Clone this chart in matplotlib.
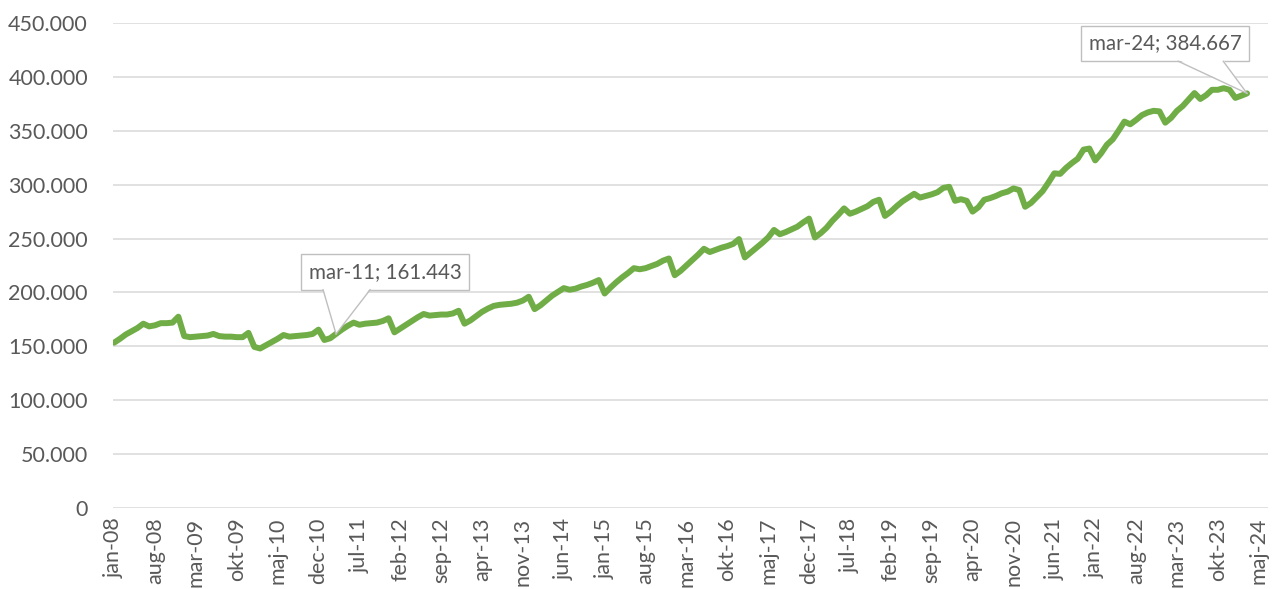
import matplotlib
matplotlib.use("Agg")
import matplotlib.pyplot as plt
from matplotlib.ticker import FuncFormatter, FixedLocator, MultipleLocator
from matplotlib.patches import Polygon
from matplotlib.lines import Line2D

# Danish month abbreviations
month_names = ["jan", "feb", "mar", "apr", "maj", "jun", "jul", "aug", "sep", "okt", "nov", "dec"]
start_year = 2008

# Monthly values (jan..dec) per year
v2008 = [153400, 157000, 161000, 164000, 167000, 171000, 168500, 169500, 171500, 171500, 172000, 177500]
v2009 = [159500, 158500, 159000, 159500, 160000, 161500, 159500, 159000, 159000, 158500, 158500, 162500]
v2010 = [149500, 148000, 151000, 154000, 157000, 160500, 159000, 159500, 160000, 160500, 161500, 165500]
v2011 = [155900, 157500, 161443, 165500, 169000, 172000, 170000, 171000, 171500, 172000, 173500, 176000]
v2012 = [163000, 166500, 170000, 173500, 177000, 180000, 178500, 179000, 179500, 179500, 180500, 183000]
v2013 = [171000, 174000, 178000, 182000, 185000, 187500, 188500, 189000, 189500, 190500, 192500, 196000]
v2014 = [184500, 188000, 192500, 197000, 200500, 204000, 202500, 203500, 205500, 207000, 209000, 211500]
v2015 = [199000, 204500, 209500, 214000, 218000, 222500, 221500, 222500, 224500, 226500, 229500, 231500]
v2016 = [216000, 220000, 225000, 230000, 235000, 240500, 237500, 239500, 241500, 243000, 245000, 249500]
v2017 = [232500, 237000, 241500, 246000, 251000, 258000, 254000, 256000, 258500, 261000, 265000, 268500]
v2018 = [251000, 255000, 260000, 266500, 272000, 278000, 273000, 275000, 277500, 280000, 284000, 286000]
v2019 = [271000, 275000, 280000, 284500, 288000, 291500, 288000, 289500, 291000, 293000, 297000, 298000]
v2020 = [285000, 286500, 285000, 275000, 279000, 286000, 287500, 289500, 292000, 293500, 296500, 295000]
v2021 = [279500, 283000, 288500, 294000, 302000, 310500, 310000, 315500, 320000, 324000, 332500, 333500]
v2022 = [322500, 329000, 337000, 342000, 350000, 358500, 356000, 360000, 364500, 367000, 368500, 368000]
v2023 = [357500, 362000, 368500, 373000, 379000, 385000, 379500, 383000, 388000, 388000, 389500, 388000]
v2024 = [380500, 382500, 384667]

series = (v2008 + v2009 + v2010 + v2011 + v2012 + v2013 + v2014 + v2015 + v2016
          + v2017 + v2018 + v2019 + v2020 + v2021 + v2022 + v2023 + v2024)
x = list(range(len(series)))

def month_label(i):
    return f"{month_names[i % 12]}-{(start_year + i // 12) % 100:02d}"

tick_positions = list(range(0, 197, 7))
tick_labels = [month_label(i) for i in tick_positions]

# annotated points (index into series)
annotated = [38, len(series) - 1]

FONT = ["Lato", "DejaVu Sans"]
GRAY_TEXT = "#595959"
GRID = "#D9D9D9"
GREEN = "#70AD47"
BOX_EDGE = "#BFBFBF"

fig = plt.figure(figsize=(12.72, 5.89), dpi=100)
ax = fig.add_axes([0.0888, 0.1375, 0.9081, 0.8235])

ax.plot(x, series, color=GREEN, lw=4.3, solid_joinstyle="round", solid_capstyle="round", zorder=3)

ax.set_ylim(0, 450000)
ax.set_xlim(-0.2, 197.6)
ax.yaxis.set_major_locator(MultipleLocator(50000))
ax.yaxis.set_major_formatter(FuncFormatter(lambda v, p: "0" if v == 0 else f"{int(v):,}".replace(",", ".")))
ax.grid(axis="y", color=GRID, lw=1.1, zorder=0)
ax.set_axisbelow(True)
for s in ax.spines.values():
    s.set_visible(False)

ax.xaxis.set_major_locator(FixedLocator(tick_positions))
ax.set_xticklabels(tick_labels, rotation=90, ha="center", va="top")
ax.tick_params(axis="both", length=0, colors=GRAY_TEXT, labelsize=15.5)
ax.tick_params(axis="y", pad=18)
ax.tick_params(axis="x", pad=7)
for lab in ax.get_xticklabels() + ax.get_yticklabels():
    lab.set_family(FONT)

# label box placement (data coords) and pointer base offsets (px from box centre)
text_pos = {38: (46.4, 219000), len(series) - 1: (180.0, 431000)}
base_offsets = {38: (-62, -15), len(series) - 1: (13, 58)}

texts = {}
for i in annotated:
    v = series[i]
    label = f"{month_label(i)}; {v / 1000:.3f}"
    tx, ty = text_pos[i]
    t = ax.text(tx, ty, label, ha="center", va="center", fontsize=14.8, color=GRAY_TEXT,
                family=FONT, zorder=5,
                bbox=dict(boxstyle="square,pad=0.38", fc="white", ec=BOX_EDGE, lw=1.0))
    texts[i] = t

fig.canvas.draw()
renderer = fig.canvas.get_renderer()
for i in annotated:
    t = texts[i]
    bb = t.get_bbox_patch().get_window_extent(renderer)
    cx = (bb.x0 + bb.x1) / 2
    by = bb.y0
    b0, b1 = base_offsets[i]
    tip = ax.transData.transform((x[i], series[i]))
    poly = Polygon([(cx + b0, by + 1.5), (tip[0], tip[1]), (cx + b1, by + 1.5)], closed=True,
                   fc="white", ec="none", transform=None, zorder=6)
    fig.add_artist(poly)
    for bx in (b0, b1):
        fig.add_artist(Line2D([cx + bx, tip[0]], [by, tip[1]], color=BOX_EDGE, lw=1.0,
                              transform=None, zorder=7))

fig.savefig("out.png", dpi=100, facecolor="white")
